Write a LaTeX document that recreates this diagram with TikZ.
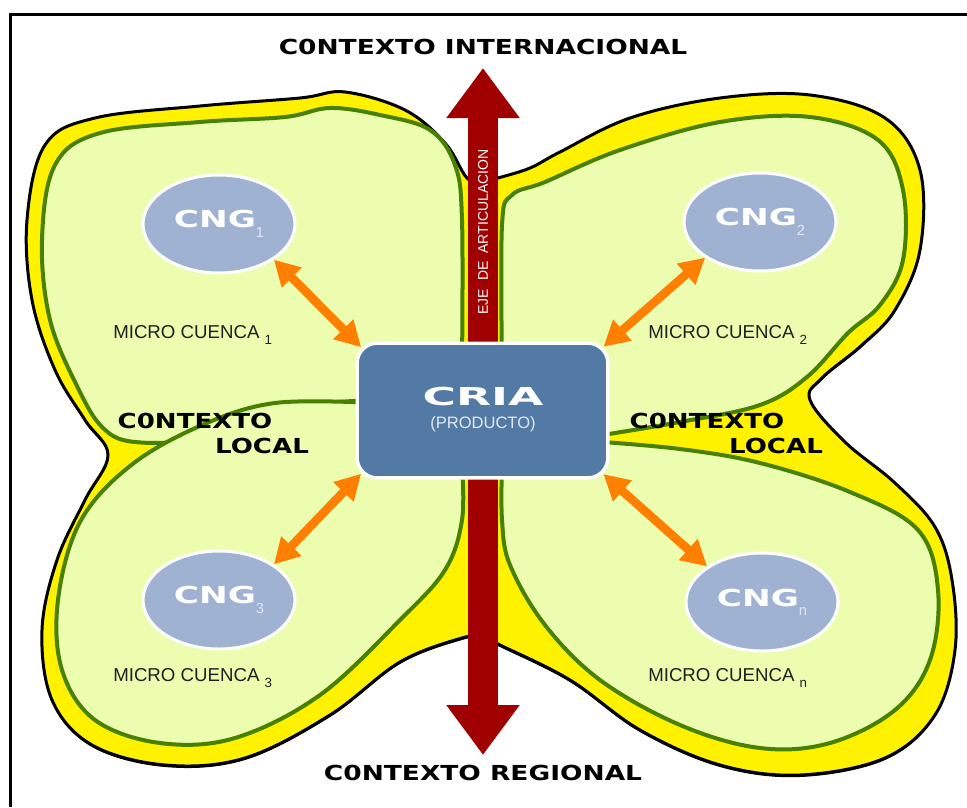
\documentclass[tikz,border=0pt]{standalone}
\usepackage{fontspec}
\setmainfont{Liberation Sans}
\newfontfamily\heavy{DejaVu Sans}
\usetikzlibrary{arrows.meta,positioning,shapes.geometric}

\definecolor{lobefill}{RGB}{236,253,176}
\definecolor{lobeline}{RGB}{72,128,0}
\definecolor{ejered}{RGB}{160,0,0}
\definecolor{criablue}{RGB}{83,122,165}
\definecolor{cngblue}{RGB}{160,178,210}
\definecolor{naranja}{RGB}{255,128,0}
\definecolor{subgris}{RGB}{225,232,245}

\newcommand{\wide}[2]{\scalebox{#1}[1]{#2}}

\tikzset{
  contorno/.style={fill=yellow, draw=black, line width=2.25pt},
  cuenca/.style={fill=lobefill, draw=lobeline, line width=3pt},
  eje/.style={draw=ejered, line width=22.5pt,
    {Triangle[length=37.5pt,width=52.5pt]}-{Triangle[length=37.5pt,width=52.5pt]}},
  flecha/.style={draw=naranja, line width=6.5pt,
    {Triangle[length=19pt,width=20pt]}-{Triangle[length=19pt,width=20pt]}},
  contexto/.style={font=\heavy\bfseries\fontsize{15.5}{16}\selectfont, inner sep=0pt},
  cria/.style={rectangle, rounded corners=15pt, fill=criablue, draw=white,
    line width=2.5pt, minimum width=188pt, minimum height=101pt},
  cng/.style={ellipse, fill=cngblue, draw=white, line width=2.25pt,
    minimum width=114pt, minimum height=73.5pt, inner sep=0pt, text=white,
    font=\heavy\bfseries\fontsize{17.5}{18}\selectfont},
  micro/.style={anchor=base west, inner sep=0pt, text=black!88,
    font=\fontsize{14}{14}\selectfont},
}

\newcommand{\cngsub}[1]{\raisebox{-7pt}{\color{subgris}\normalfont\fontsize{11}{11}\selectfont #1}}
\newcommand{\microsub}[1]{\raisebox{-4.5pt}{\fontsize{10}{10}\selectfont #1}}

\begin{document}
\begin{tikzpicture}[x=0.75pt,y=-0.75pt]
\useasboundingbox (0,0) rectangle (967,807);

% marco
\draw[line width=2.25pt] (10,807) -- (10,14) -- (967,14);

% contorno amarillo
\fill[black] plot[smooth cycle, tension=0.6] coordinates {
  (483,184) (467,180) (445,145) (405,112) (345,94) (300,100) (200,108)
  (95,120) (45,147) (27,222) (32,302) (55,372) (85,422) (108,457)
  (85,502) (57,562) (42,632) (52,702) (92,747) (165,767) (245,760)
  (330,717) (400,664) (462,640) (483,639) (500,647) (570,682) (640,732)
  (720,767) (800,777) (885,760) (935,717) (955,652) (952,582) (935,529)
  (895,485) (845,444) (810,402) (822,380) (862,347) (895,312) (920,252)
  (920,172) (885,120) (810,97) (720,100) (630,120) (560,154) (530,170) (498,180)};
\draw[contorno] plot[smooth cycle, tension=0.6] coordinates {
  (483,182) (467,178) (445,143) (405,110) (345,92) (300,98) (200,106)
  (95,118) (45,145) (27,220) (32,300) (55,370) (85,420) (108,455)
  (85,500) (57,560) (42,630) (52,700) (92,745) (165,765) (245,758)
  (330,715) (400,662) (462,638) (483,637) (500,645) (570,680) (640,730)
  (720,765) (800,775) (885,758) (935,715) (955,650) (952,580) (935,527)
  (895,483) (845,442) (810,400) (822,378) (862,345) (895,310) (920,250)
  (920,170) (885,118) (810,95) (720,98) (630,118) (560,152) (530,168) (498,178)};

% micro cuenca 1
\draw[cuenca] plot[smooth, tension=0.6] coordinates {
  (462,365) (462,220) (455,165) (430,130) (380,115) (330,108) (285,117)
  (200,122) (100,133) (55,165) (42,240) (50,320) (78,388) (103,428)
  (135,442) (200,438) (290,408) (375,400)} -- cycle;
% micro cuenca 3
\draw[cuenca] plot[smooth, tension=0.6] coordinates {
  (375,403) (275,403) (200,426) (130,466) (80,522) (58,600) (62,670)
  (95,720) (160,743) (235,738) (320,695) (400,620) (445,570) (462,520)
  (462,465)} -- cycle;
% micro cuenca 2
\draw[cuenca] plot[smooth, tension=0.6] coordinates {
  (502,365) (502,225) (512,195) (545,182) (620,150) (720,122) (810,117)
  (878,140) (903,190) (903,260) (880,305) (848,333) (807,377) (760,405)
  (680,422) (590,437)} -- cycle;
% micro cuenca n
\draw[cuenca] plot[smooth, tension=0.6] coordinates {
  (590,441) (680,449) (760,463) (850,492) (918,530) (938,590) (930,660)
  (895,710) (830,743) (760,748) (680,725) (600,680) (545,625) (510,565)
  (502,520) (502,465)} -- cycle;

% eje de articulacion
\coordinate (ejearriba) at (483,68);
\coordinate (ejeabajo) at (483,755);
\draw[eje] (ejeabajo) -- (ejearriba);
\node[rotate=90, text=white, font=\fontsize{10.5}{11}\selectfont, inner sep=0pt]
  (ejelabel) at (483,232) {EJE\hspace{6pt}DE\hspace{6pt}ARTICULACION};

% titulos
\node[contexto] (internacional) at (483,47) {\wide{1.28}{C0NTEXTO INTERNACIONAL}};
\node[contexto] (regional) at (483,773) {\wide{1.28}{C0NTEXTO REGIONAL}};
\node[contexto] (local1a) at (195,421) {\wide{1.26}{C0NTEXTO}};
\node[contexto] (local1b) at (262,446) {\wide{1.26}{LOCAL}};
\node[contexto] (local2a) at (707,421) {\wide{1.26}{C0NTEXTO}};
\node[contexto] (local2b) at (776,446) {\wide{1.26}{LOCAL}};

% cria
\node[cria] (cria) at (482.5,410.5) {};
\node[text=white, font=\heavy\bfseries\fontsize{18.5}{19}\selectfont, inner sep=0pt]
  (crianame) at (483,397) {\wide{1.85}{CRIA}};
\node[text=subgris, font=\fontsize{12.4}{13}\selectfont, inner sep=0pt]
  (producto) at (483,424) {(PRODUCTO)};

% centros de gestion
\node[cng] (cng1) at (219,224) {\wide{1.47}{CNG}\cngsub{1}};
\node[cng] (cng2) at (760,222) {\wide{1.47}{CNG}\cngsub{2}};
\node[cng] (cng3) at (219,600) {\wide{1.47}{CNG}\cngsub{3}};
\node[cng] (cngn) at (762,602) {\wide{1.47}{CNG}\cngsub{n}};

% micro cuencas
\node[micro] (mc1) at (113,338) {MICRO CUENCA \microsub{1}};
\node[micro] (mc2) at (648,338) {MICRO CUENCA \microsub{2}};
\node[micro] (mc3) at (113,681) {MICRO CUENCA \microsub{3}};
\node[micro] (mcn) at (648,681) {MICRO CUENCA \microsub{n}};

% flechas
\draw[flecha, shorten >=-6pt] (cng1.-33) -- (cria.north west);
\draw[flecha, shorten >=-6pt] (cng2.-147) -- (cria.north east);
\draw[flecha, shorten >=-6pt] (cng3.33) -- (cria.south west);
\draw[flecha, shorten >=-6pt] (cngn.147) -- (cria.south east);
\end{tikzpicture}
\end{document}
